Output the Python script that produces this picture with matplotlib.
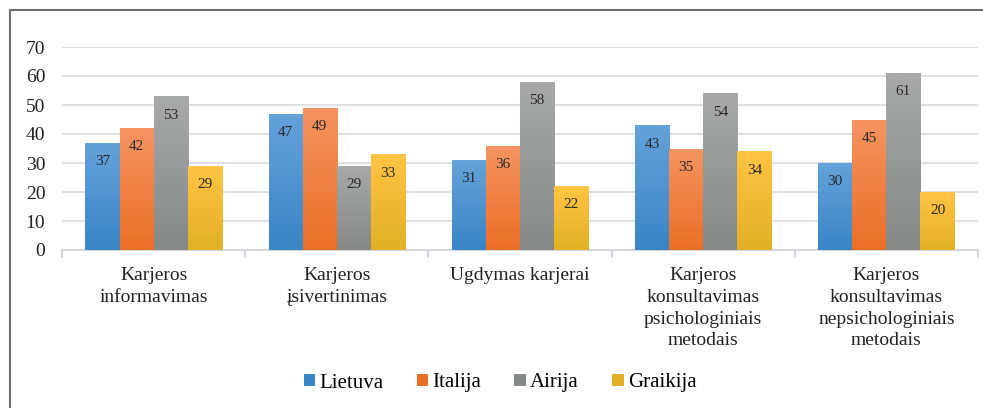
import numpy as np
import matplotlib
matplotlib.use("Agg")
import matplotlib.pyplot as plt
from matplotlib.colors import LinearSegmentedColormap
from matplotlib.lines import Line2D

categories = ["Karjeros\ninformavimas", "Karjeros\nįsivertinimas", "Ugdymas karjerai",
              "Karjeros\nkonsultavimas\npsichologiniais\nmetodais",
              "Karjeros\nkonsultavimas\nnepsichologiniais\nmetodais"]
series = ["Lietuva", "Italija", "Airija", "Graikija"]
lietuva = [37, 47, 31, 43, 30]
italija = [42, 49, 36, 35, 45]
airija = [53, 29, 58, 54, 61]
graikija = [29, 33, 22, 34, 20]
values = [lietuva, italija, airija, graikija]

# (top colour, bottom colour) per series
grads = [("#64a2da", "#3a85c6"), ("#f59461", "#ea6f26"),
         ("#a7a9aa", "#858889"), ("#ffc445", "#e2b024")]

plt.rcParams['font.family'] = ['Liberation Serif', 'DejaVu Serif']

fig = plt.figure(figsize=(9.83, 4.08), dpi=100)
ax = fig.add_axes([62/983, 1-250/408, (978-62)/983, (250-47)/408])

x = np.arange(len(categories))
w = 0.186
for i, (name, vals) in enumerate(zip(series, values)):
    pos = x + (i - 1.5) * w
    bars = ax.bar(pos, vals, w, color=grads[i][1], label=name, zorder=2)
    cmap = LinearSegmentedColormap.from_list(name, [grads[i][1], grads[i][0]])
    grad = np.linspace(0, 1, 64).reshape(-1, 1)
    for b, v in zip(bars, vals):
        im = ax.imshow(grad, cmap=cmap, origin="lower", aspect="auto",
                       extent=[b.get_x(), b.get_x() + b.get_width(), 0, b.get_height()],
                       zorder=3)
        im.set_clip_path(b)
        ax.annotate(str(v), (b.get_x() + b.get_width() / 2, v), xytext=(0, -13.5),
                    textcoords="offset points", ha="center", va="center",
                    fontsize=11, color="#2a2a2a", zorder=4)

ax.set_xlim(-0.5, len(categories) - 0.5)
ax.set_ylim(0, 70)
ax.set_yticks(range(0, 71, 10))
ax.yaxis.grid(True, color="#dde1e5", linewidth=1.5, zorder=0)
ax.set_axisbelow(True)
for s in ["top", "right", "left"]:
    ax.spines[s].set_visible(False)
ax.spines["bottom"].set_color("#d4d8dc")
ax.spines["bottom"].set_linewidth(1.5)
ax.tick_params(axis="y", length=0, labelsize=14, colors="#222222", pad=12)
ax.set_xticks(x)
ax.set_xticklabels(categories, fontsize=14, color="#222222", linespacing=1.38, va="top")
ax.tick_params(axis="x", length=0, pad=12)
ax.set_xticks(np.arange(-0.5, len(categories)), minor=True)
ax.tick_params(axis="x", which="minor", length=6, color="#d4d8dc", width=1.5)

ax.legend(loc="center", bbox_to_anchor=(500/983, 1-383/408), bbox_transform=fig.transFigure,
          ncol=4, frameon=False, fontsize=15, handlelength=0.55, handleheight=0.55,
          handletextpad=0.2, columnspacing=1.6)

# outer frame (left and top edges visible)
fig.add_artist(Line2D([10/983, 10/983], [0, 1-10/408], color="#6e6e6e", lw=1.5))
fig.add_artist(Line2D([10/983, 1], [1-10/408, 1-10/408], color="#6e6e6e", lw=1.5))

fig.savefig("out.png", dpi=100)
